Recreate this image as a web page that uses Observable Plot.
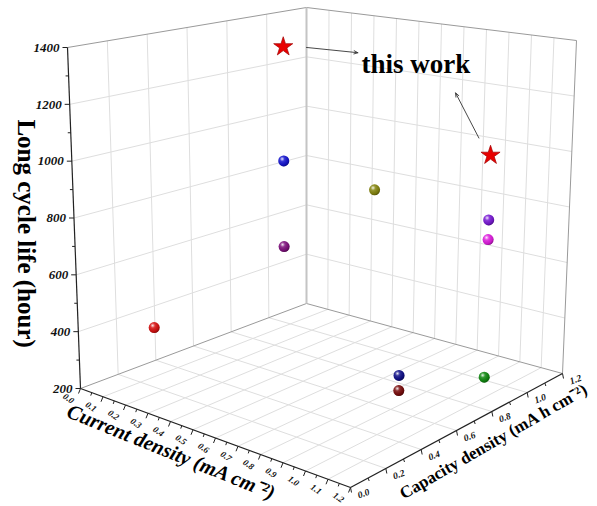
<!DOCTYPE html>
<html><head><meta charset="utf-8">
<script src="https://cdn.jsdelivr.net/npm/d3@7"></script>
<script src="https://cdn.jsdelivr.net/npm/@observablehq/plot@0.6"></script>
<style>body{margin:0;background:#fff}</style>
</head><body><div id="chart"></div>
<script>
// ---------- data ----------
const currentDensity  = [0.5, 0.5, 0.5, 0.1, 0.5, 1.0, 1.0, 1.0, 1.0, 1.0, 1.0];
const capacityDensity = [0.5, 0.5, 0.5, 0.28, 0.98, 1.0, 1.0, 1.0, 0.52, 0.52, 1.0];
const cycleLife       = [1400, 1000, 700, 375, 800, 1000, 770, 700, 360, 310, 210];
const pointColor      = ["#e00000", "#1414d2", "#80107e", "#d81010", "#86860e", "#e00000", "#7a1ad6", "#e01ee0", "#10108a", "#7a0c0c", "#108a10"];
const thisWork        = [true, false, false, false, false, true, false, false, false, false, false];

const currentTicks  = [0.0, 0.1, 0.2, 0.3, 0.4, 0.5, 0.6, 0.7, 0.8, 0.9, 1.0, 1.1, 1.2];
const capacityTicks = [0.0, 0.2, 0.4, 0.6, 0.8, 1.0, 1.2];
const lifeTicks     = [200, 400, 600, 800, 1000, 1200, 1400];

const annotationText = "this work";
const annotationAt   = [0.49, 1.2, 1232];           // [current, capacity, life]
const arrowFrom      = [[0.0, 1.2, 1238], [0.78, 1.2, 991]];
const arrowTo        = [[0.23, 1.2, 1246], [0.67, 1.2, 1146]];

// ---------- 3D box projection (layout) ----------
const W = 597, H = 506;
const cDom = [0, 1.2], kDom = [0, 1.2], zDom = [200, 1400];
const corner = {
  "000": [80, 388], "100": [350, 487], "010": [306, 303], "110": [562, 373],
  "001": [67, 47],  "101": [352, 89],  "011": [306, 7],   "111": [576, 40]
};
const lerp = (a, b, t) => [a[0] + (b[0] - a[0]) * t, a[1] + (b[1] - a[1]) * t];
function proj([c, k, z]) {
  const u = (c - cDom[0]) / (cDom[1] - cDom[0]);
  const v = (k - kDom[0]) / (kDom[1] - kDom[0]);
  const w = (z - zDom[0]) / (zDom[1] - zDom[0]);
  const b0 = lerp(lerp(corner["000"], corner["100"], u), lerp(corner["010"], corner["110"], u), v);
  const b1 = lerp(lerp(corner["001"], corner["101"], u), lerp(corner["011"], corner["111"], u), v);
  return lerp(b0, b1, w);
}
const seg = (a, b) => { const p = proj(a), q = proj(b); return {x1: p[0], y1: p[1], x2: q[0], y2: q[1]}; };
const inner = a => a.slice(1, -1);
const mids = a => a.slice(1).map((d, i) => (d + a[i]) / 2);
const [c0, c1] = cDom, [k0, k1] = kDom, [z0, z1] = zDom;

// grid lines
const grid = [
  ...inner(capacityTicks).map(k => seg([c0, k, z0], [c0, k, z1])),
  ...inner(lifeTicks).map(z => seg([c0, k0, z], [c0, k1, z])),
  ...inner(currentTicks).map(c => seg([c, k1, z0], [c, k1, z1])),
  ...inner(lifeTicks).map(z => seg([c0, k1, z], [c1, k1, z])),
  ...inner(currentTicks).map(c => seg([c, k0, z0], [c, k1, z0])),
  ...inner(capacityTicks).map(k => seg([c0, k, z0], [c1, k, z0]))
];
const edgesGray = [
  seg([c0, k0, z1], [c0, k1, z1]),
  seg([c0, k1, z1], [c1, k1, z1]),
  seg([c1, k1, z0], [c1, k1, z1]),
  seg([c0, k0, z0], [c0, k1, z0]),
  seg([c0, k1, z0], [c1, k1, z0])
];
const edgeBack = [seg([c0, k1, z0], [c0, k1, z1])];
const axesBlack = [
  seg([c0, k0, z0], [c0, k0, z1]),
  seg([c0, k0, z0], [c1, k0, z0]),
  seg([c1, k0, z0], [c1, k1, z0])
];

// ticks
const tick = (p, dx, dy) => ({x1: p[0], y1: p[1], x2: p[0] + dx, y2: p[1] + dy});
const ticks = [
  ...lifeTicks.map(z => tick(proj([c0, k0, z]), -5, 0)),
  ...mids(lifeTicks).map(z => tick(proj([c0, k0, z]), -3, 0)),
  ...currentTicks.map(c => tick(proj([c, k0, z0]), -2, 5)),
  ...mids(currentTicks).map(c => tick(proj([c, k0, z0]), -1, 3)),
  ...capacityTicks.map(k => tick(proj([c1, k, z0]), 1, 5)),
  ...mids(capacityTicks).map(k => tick(proj([c1, k, z0]), 1, 3))
];
const lifeLabels = lifeTicks.map(z => { const p = proj([c0, k0, z]); return {x: p[0], y: p[1], t: String(z)}; });
const curLabels = currentTicks.map(c => { const p = proj([c, k0, z0]); return {x: p[0], y: p[1], t: c.toFixed(1)}; });
const capLabels = capacityTicks.map(k => { const p = proj([c1, k, z0]); return {x: p[0], y: p[1], t: k.toFixed(1)}; });

// points
const pts = currentDensity.map((c, i) => {
  const p = proj([c, capacityDensity[i], cycleLife[i]]);
  return {x: p[0], y: p[1], color: pointColor[i], star: thisWork[i]};
});
const spheres = pts.filter(d => !d.star), stars = pts.filter(d => d.star);
const arrows = arrowFrom.map((a, i) => seg(a, arrowTo[i]));
const ann = (() => { const p = proj(annotationAt); return [{x: p[0], y: p[1], t: annotationText}]; })();

const serif = "'Liberation Serif', 'Times New Roman', serif";
const titleAt = (pt) => { const p = proj(pt); return {x: p[0], y: p[1]}; };

const L = (data, o) => Plot.link(data, {x1: "x1", y1: "y1", x2: "x2", y2: "y2", ...o});

const chart = Plot.plot({
  width: W, height: H, margin: 0,
  x: {domain: [0, W], axis: null},
  y: {domain: [H, 0], axis: null},
  color: {type: "identity"},
  marks: [
    L(grid, {stroke: "#dedede", strokeWidth: 1}),
    L(edgesGray, {stroke: "#9a9a9a", strokeWidth: 1}),
    L(edgeBack, {stroke: "#c4c4c4", strokeWidth: 2}),
    L(axesBlack, {stroke: "#222", strokeWidth: 1.2}),
    L(ticks, {stroke: "#222", strokeWidth: 1}),
    Plot.text(lifeLabels, {x: "x", y: "y", text: "t", dx: -8, textAnchor: "end", fontSize: 13, fontWeight: "bold", fontStyle: "italic", fontFamily: serif, fill: "#111"}),
    Plot.text(curLabels, {x: "x", y: "y", text: "t", dx: -12, dy: 10, rotate: 35, fontSize: 9, fontWeight: "bold", fontStyle: "italic", fontFamily: serif, fill: "#111"}),
    Plot.text(capLabels, {x: "x", y: "y", text: "t", dx: 13, dy: 6, rotate: -20, fontSize: 9.5, fontWeight: "bold", fontStyle: "italic", fontFamily: serif, fill: "#111"}),
    Plot.text([titleAt([c0, k0, 745])], {x: "x", y: "y", text: () => "Long cycle life (hour)", dx: -49, rotate: 90, fontSize: 25, fontWeight: "bold", fontFamily: serif, fill: "#000"}),
    Plot.text([titleAt([0.42, k0, z0])], {x: "x", y: "y", text: () => "Current density (mA cm⁻²)", dx: -4, dy: 29, rotate: 22, fontSize: 20.5, fontWeight: "bold", fontStyle: "italic", fontFamily: serif, fill: "#000"}),
    Plot.text([titleAt([c1, 0.82, z0])], {x: "x", y: "y", text: () => "Capacity density (mA h cm⁻²)", dx: -2, dy: 32, rotate: -30, fontSize: 17, fontWeight: "bold", fontFamily: serif, fill: "#000"}),
    Plot.dot(spheres, {x: "x", y: "y", r: 5.5, fill: "color"}),
    Plot.dot(spheres, {x: "x", y: "y", r: 5.5, fill: "url(#shine)"}),
    Plot.dot(stars, {x: "x", y: "y", r: 6, symbol: "star", fill: "#e80000", stroke: "#a00000", strokeWidth: 0.7}),
    Plot.arrow(arrows, {x1: "x1", y1: "y1", x2: "x2", y2: "y2", stroke: "#333", strokeWidth: 0.9, headLength: 7, headAngle: 45}),
    Plot.text(ann, {x: "x", y: "y", text: "t", fontSize: 27, fontWeight: "bold", fontFamily: serif, fill: "#000"})
  ]
});

const defs = d3.select(chart).insert("defs", ":first-child");
const g = defs.append("radialGradient").attr("id", "shine").attr("cx", "0.36").attr("cy", "0.32").attr("r", "0.72");
g.append("stop").attr("offset", "0").attr("stop-color", "#fff").attr("stop-opacity", 0.9);
g.append("stop").attr("offset", "0.3").attr("stop-color", "#fff").attr("stop-opacity", 0.15);
g.append("stop").attr("offset", "0.75").attr("stop-color", "#000").attr("stop-opacity", 0.1);
g.append("stop").attr("offset", "1").attr("stop-color", "#000").attr("stop-opacity", 0.4);

document.getElementById("chart").appendChild(chart);
</script>
</body></html>
